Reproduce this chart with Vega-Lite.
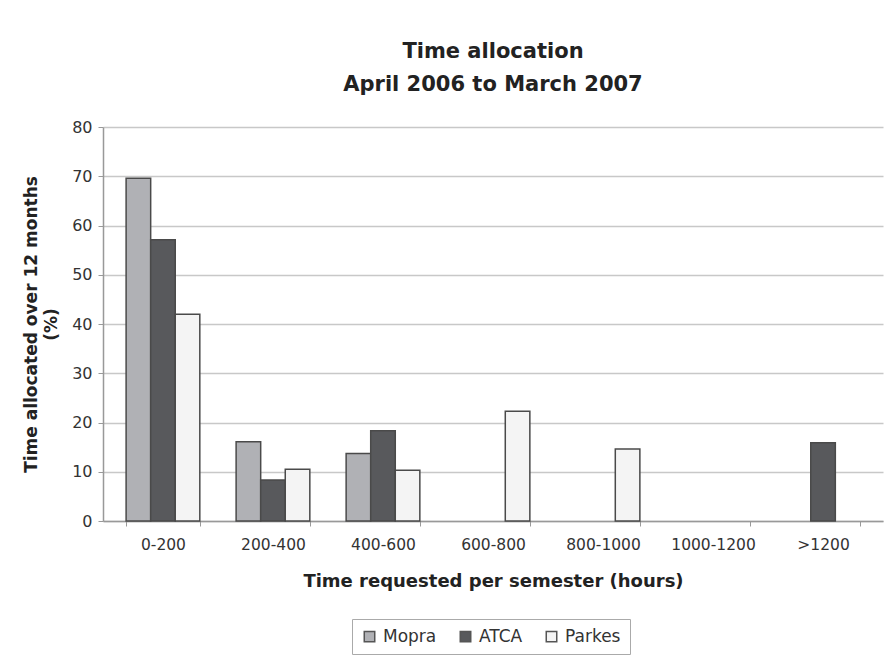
{
  "$schema": "https://vega.github.io/schema/vega-lite/v6.json",
  "width": 780,
  "height": 394,
  "autosize": {"type": "none"},
  "padding": {"left": 103, "top": 127, "right": 3, "bottom": 136},
  "background": "white",
  "title": {
    "text": ["Time allocation", "April 2006 to March 2007"],
    "font": "DejaVu Sans",
    "fontSize": 21,
    "fontWeight": "bold",
    "color": "#222222",
    "lineHeight": 33,
    "anchor": "middle",
    "offset": 24
  },
  "data": {
    "values": [
      {"range": "0-200", "telescope": "Mopra", "pct": 69.6},
      {"range": "0-200", "telescope": "ATCA", "pct": 57.1},
      {"range": "0-200", "telescope": "Parkes", "pct": 42.0},
      {"range": "200-400", "telescope": "Mopra", "pct": 16.1},
      {"range": "200-400", "telescope": "ATCA", "pct": 8.3},
      {"range": "200-400", "telescope": "Parkes", "pct": 10.5},
      {"range": "400-600", "telescope": "Mopra", "pct": 13.7},
      {"range": "400-600", "telescope": "ATCA", "pct": 18.3},
      {"range": "400-600", "telescope": "Parkes", "pct": 10.3},
      {"range": "600-800", "telescope": "Parkes", "pct": 22.3},
      {"range": "800-1000", "telescope": "Parkes", "pct": 14.6},
      {"range": ">1200", "telescope": "ATCA", "pct": 15.9}
    ]
  },
  "mark": {"type": "bar", "stroke": "#4a4a4a", "strokeWidth": 1.5},
  "encoding": {
    "x": {
      "field": "range",
      "type": "nominal",
      "sort": ["0-200", "200-400", "400-600", "600-800", "800-1000", "1000-1200", ">1200"],
      "scale": {"domain": ["0-200", "200-400", "400-600", "600-800", "800-1000", "1000-1200", ">1200"], "paddingInner": 0.33, "paddingOuter": 0.21},
      "axis": {
        "title": "Time requested per semester (hours)",
        "titleFont": "DejaVu Sans",
        "titleFontSize": 18,
        "titleFontWeight": "bold",
        "titleColor": "#222222",
        "titlePadding": 20,
        "labelAngle": 0,
        "labelFont": "DejaVu Sans",
        "labelFontSize": 15.5,
        "labelColor": "#333333",
        "labelPadding": 11,
        "tickBand": "extent",
        "tickSize": 5,
        "tickColor": "#999999",
        "domainColor": "#999999",
        "domainWidth": 1.5
      }
    },
    "xOffset": {"field": "telescope", "type": "nominal", "sort": ["Mopra", "ATCA", "Parkes"], "scale": {"domain": ["Mopra", "ATCA", "Parkes"], "paddingInner": 0, "paddingOuter": 0}},
    "y": {
      "field": "pct",
      "type": "quantitative",
      "scale": {"domain": [0, 80], "nice": false},
      "axis": {
        "title": ["Time allocated over 12 months", "(%)"],
        "titleFont": "DejaVu Sans",
        "titleFontSize": 17,
        "titleFontWeight": "bold",
        "titleColor": "#222222",
        "titleLineHeight": 20,
        "titlePadding": 11,
        "values": [0, 10, 20, 30, 40, 50, 60, 70, 80],
        "labelFont": "DejaVu Sans",
        "labelFontSize": 16,
        "labelColor": "#333333",
        "labelPadding": 6,
        "tickSize": 5,
        "tickColor": "#999999",
        "domainColor": "#999999",
        "domainWidth": 1.5,
        "grid": true,
        "gridColor": "#c8c8c8",
        "gridWidth": 1.5
      }
    },
    "fill": {
      "field": "telescope",
      "type": "nominal",
      "sort": ["Mopra", "ATCA", "Parkes"],
      "scale": {"domain": ["Mopra", "ATCA", "Parkes"], "range": ["#b0b1b5", "#58595c", "#f4f4f4"]},
      "legend": {
        "title": null,
        "orient": "none",
        "direction": "horizontal",
        "legendX": 249,
        "legendY": 492,
        "strokeColor": "#aaaaaa",
        "padding": 9,
        "symbolType": "square",
        "symbolSize": 110,
        "symbolStrokeColor": "#555555",
        "symbolStrokeWidth": 1.5,
        "labelFont": "DejaVu Sans",
        "labelFontSize": 17,
        "labelColor": "#333333",
        "columnPadding": 20,
        "labelOffset": 5
      }
    }
  },
  "config": {
    "view": {"stroke": null}
  }
}
